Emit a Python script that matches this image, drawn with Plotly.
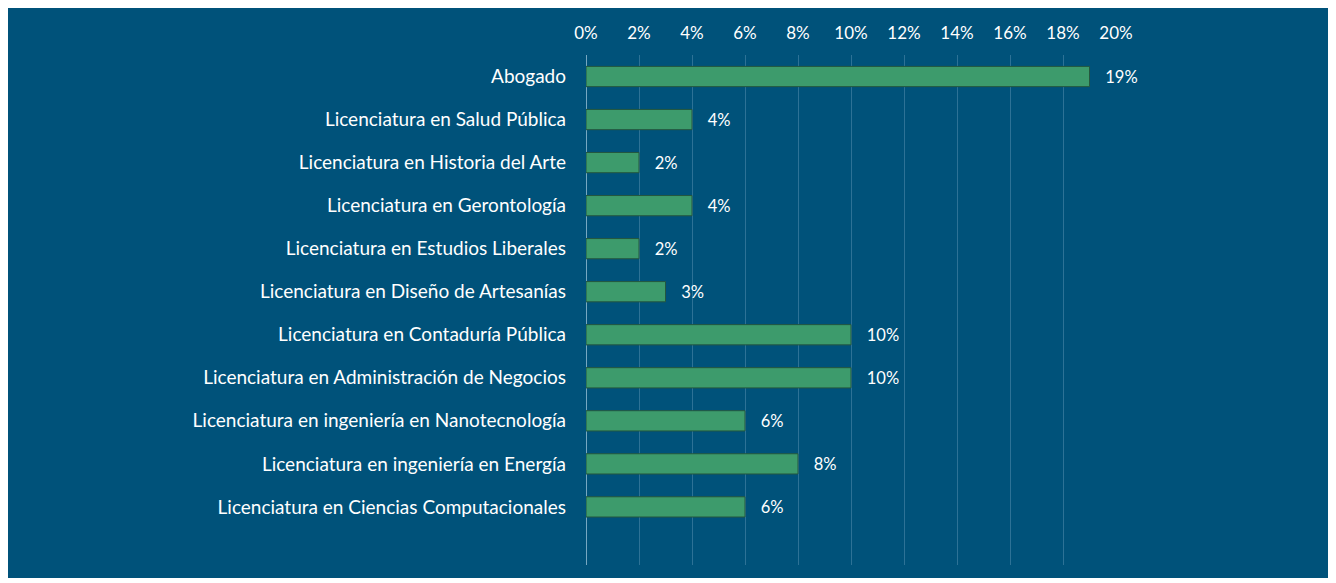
import plotly.graph_objects as go

categories = [
    "Abogado",
    "Licenciatura en Salud Pública",
    "Licenciatura en Historia del Arte",
    "Licenciatura en Gerontología",
    "Licenciatura en Estudios Liberales",
    "Licenciatura en Diseño de Artesanías",
    "Licenciatura en Contaduría Pública",
    "Licenciatura en Administración de Negocios",
    "Licenciatura en ingeniería en Nanotecnología",
    "Licenciatura en ingeniería en Energía",
    "Licenciatura en Ciencias Computacionales",
]
values = [19, 4, 2, 4, 2, 3, 10, 10, 6, 8, 6]
tick_vals = [0, 2, 4, 6, 8, 10, 12, 14, 16, 18, 20]
tick_text = [f"{v}%" for v in tick_vals]

BG = "#00527a"
BAR = "#3d9b6c"
FONT = "Lato, Open Sans, sans-serif"

fig = go.Figure()
fig.add_trace(go.Bar(
    y=categories, x=values, orientation="h",
    marker=dict(color=BAR, line=dict(color="#24573f", width=1)),
    width=0.47,
    text=[f"   {v}%" for v in values],
    textposition="outside",
    textfont=dict(color="white", size=18, family=FONT),
    cliponaxis=False,
))

# page body has an 8px margin; figure placed at (8, 8)
W, H = 1328, 575
ml, mr, mt, mb = 578, 220, 47, 18
pw, ph = W - ml - mr, H - mt - mb
# dark panel, leaving a thin white strip at the bottom
x0 = -ml / pw
x1 = (W - ml) / pw
y1 = 1 + mt / ph
y0 = -(mb - 5) / ph
fig.add_shape(type="rect", xref="paper", yref="paper", x0=x0, x1=x1, y0=y0, y1=y1,
              fillcolor=BG, line=dict(width=0), layer="below")

fig.update_layout(
    width=W, height=H,
    margin=dict(l=ml, r=mr, t=mt, b=mb, pad=0),
    paper_bgcolor="white",
    plot_bgcolor="rgba(0,0,0,0)",
    showlegend=False,
    font=dict(family=FONT, color="white", size=18),
)
fig.update_xaxes(
    side="top", range=[0, 20], tickvals=tick_vals, ticktext=tick_text,
    showgrid=True, gridcolor="rgba(150,190,215,0.3)", gridwidth=1,
    zeroline=True, zerolinecolor="rgba(170,205,225,0.7)", zerolinewidth=1,
    showline=False, ticks="", tickfont=dict(size=17, color="white", family=FONT),
    ticklabelstandoff=12, fixedrange=True,
)
fig.update_yaxes(
    range=[11.35, -0.5], showgrid=False, ticks="", ticklen=0,
    tickfont=dict(size=19, color="white", family=FONT),
    ticklabelstandoff=19, fixedrange=True,
)
fig.write_html("out.html")
